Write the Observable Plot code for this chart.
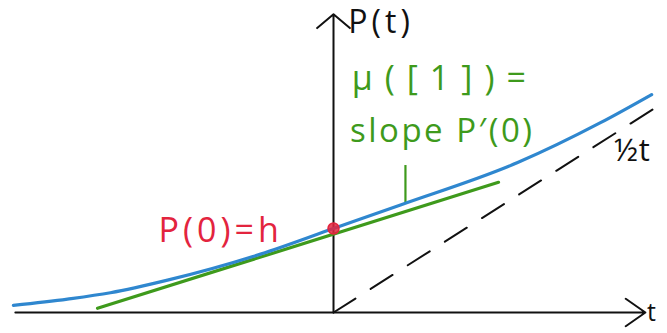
<!DOCTYPE html>
<html>
<head>
<meta charset="utf-8">
<script src="https://cdn.jsdelivr.net/npm/d3@7"></script>
<script src="https://cdn.jsdelivr.net/npm/@observablehq/plot@0.6"></script>
<style>
  html, body { margin: 0; padding: 0; background: #fff; }
  #chart svg { display: block; }
</style>
</head>
<body>
<div id="chart"></div>
<script>
// P(t): the smooth curve, sampled at these times
const curveT = [-9.7, -8.06, -6.76, -5.03, -2.21, 0, 2.03, 5.58, 8.09, 9.64];
const curveP = [0.17, 0.32, 0.47, 0.77, 1.39, 2.0, 2.56, 3.57, 4.52, 5.19];

// P(0) = h, marked on the vertical axis
const h = 2;

// tangent line at t = 0 (slope P'(0)), drawn between two end points
const tangentT = [-7.15, 5.0];
const tangentP = [0.1, 3.1];

// the asymptote P = t/2
const halfT = [0, 9.94];

// short pointer from the label down to the tangent
const pointerT = 2.18;
const pointerP = [2.6, 3.5];

// axes
const axisT = [-9.64, 9.45];
const axisP = [0, 7.1];

const blue = "#2f87cf";
const green = "#3e9a1c";
const red = "#e3243e";
const font = "'Open Sans', 'DejaVu Sans', sans-serif";

const curve = curveT.map((t, i) => ({t, p: curveP[i]}));
const tangent = tangentT.map((t, i) => ({t, p: tangentP[i]}));
const half = halfT.map(t => ({t, p: t / 2}));

// hand-lettered labels are widely spaced
const spacing = {"P(t)": 4, "μ([1])=": 12, "slope P′(0)": 2.5, "P(0)=h": 4, "½t": 1};

const chart = Plot.plot({
  width: 667,
  height: 333,
  margin: 0,
  x: {domain: [-10.09, 10.12], axis: null},
  y: {domain: [-0.5, 7.43], axis: null},
  style: {background: "#fff", fontFamily: font},
  marks: [
    // t axis and P axis with arrow heads
    Plot.arrow([{x1: axisT[0], x2: axisT[1], y1: 0, y2: 0}], {
      x1: "x1", y1: "y1", x2: "x2", y2: "y2",
      stroke: "#111", strokeWidth: 2, headLength: 18, headAngle: 70
    }),
    Plot.arrow([{x1: 0, x2: 0, y1: axisP[0], y2: axisP[1]}], {
      x1: "x1", y1: "y1", x2: "x2", y2: "y2",
      stroke: "#111", strokeWidth: 2, headLength: 16, headAngle: 100
    }),
    // asymptote t/2
    Plot.line(half, {x: "t", y: "p", stroke: "#111", strokeWidth: 2, strokeDasharray: "26,18"}),
    // tangent with slope P'(0)
    Plot.line(tangent, {x: "t", y: "p", stroke: green, strokeWidth: 3.2, strokeLinecap: "round"}),
    Plot.ruleX([pointerT], {y1: pointerP[0], y2: pointerP[1], stroke: green, strokeWidth: 2.2}),
    // P(t)
    Plot.line(curve, {x: "t", y: "p", stroke: blue, strokeWidth: 3.2, curve: "monotone-x", strokeLinecap: "round"}),
    // P(0) = h
    Plot.dot([{t: 0, p: h}], {x: "t", y: "p", r: 5.5, fill: red, fillOpacity: 0.85, stroke: red, strokeWidth: 1.5}),
    // labels
    Plot.text(["P(t)"], {x: 0.45, y: 6.9, textAnchor: "start", fontSize: 32, fill: "#111"}),
    Plot.text(["μ([1])="], {x: 0.55, y: 5.55, textAnchor: "start", fontSize: 34, fill: green}),
    Plot.text(["slope P′(0)"], {x: 0.5, y: 4.3, textAnchor: "start", fontSize: 33, fill: green}),
    Plot.text(["P(0)=h"], {x: -5.3, y: 1.95, textAnchor: "start", fontSize: 34, fill: red}),
    Plot.text(["½t"], {x: 8.5, y: 3.85, textAnchor: "start", fontSize: 31, fill: "#111"}),
    Plot.text(["t"], {x: 9.5, y: -0.02, textAnchor: "start", fontSize: 25, fill: "#111"})
  ]
});
d3.select(chart).selectAll("text").each(function() {
  const s = spacing[this.textContent];
  if (s) this.setAttribute("letter-spacing", s);
});
document.getElementById("chart").append(chart);
</script>
</body>
</html>
